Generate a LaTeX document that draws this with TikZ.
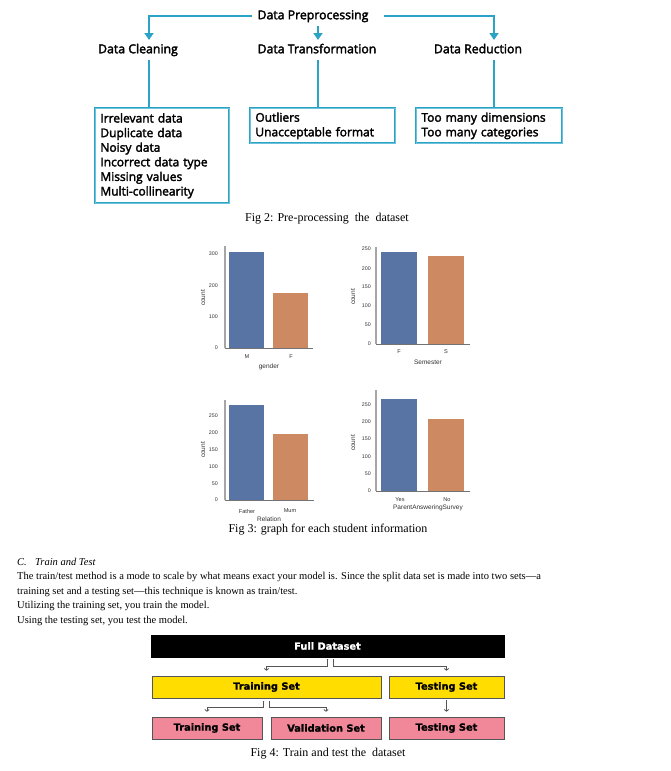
\documentclass[tikz,border=0pt]{standalone}
\usepackage{fontspec}
\setmainfont{Liberation Serif}
\newfontfamily\figfont[FakeBold=2.5]{Open Sans}
\newfontfamily\chartfont{Liberation Sans}
\newfontfamily\boxfont[FakeBold=1.5]{DejaVu Sans}
\usetikzlibrary{arrows.meta}
\definecolor{tealc}{HTML}{2BA3C6}
\definecolor{teall}{HTML}{6CC2DA}
\definecolor{bblue}{HTML}{5874A4}
\definecolor{borange}{HTML}{CD8A62}
\definecolor{ctext}{HTML}{333333}
\definecolor{ygold}{HTML}{FFDD00}
\definecolor{pinkc}{HTML}{F0889A}
\definecolor{gline}{HTML}{555555}
\tikzset{
  lbl/.style={font=\figfont\fontsize{12.3}{14}\selectfont, text height=9pt, text depth=2.5pt, inner xsep=5pt, inner ysep=0pt},
  tbox/.style={draw=tealc, line width=0.8pt, double=teall, double distance=0.4pt, align=left, inner xsep=5pt, inner ysep=0pt,
    font=\figfont\fontsize{12}{14.6}\selectfont, anchor=north west},
  tarr/.style={draw=tealc, line width=2pt, -{Triangle[width=9pt,length=7pt]}},
  tline/.style={draw=tealc, line width=2pt},
  tick/.style={font=\chartfont\fontsize{5.3}{6}\selectfont, text=ctext, anchor=east, inner sep=0pt},
  cat/.style={font=\chartfont\fontsize{5.6}{6}\selectfont, text=ctext, inner sep=0pt},
  axn/.style={font=\chartfont\fontsize{6.5}{7}\selectfont, text=ctext, inner sep=0pt},
  yax/.style={draw=gray!70, line width=1.5pt},
  xax/.style={draw=gray!110, line width=1pt},
  body/.style={font=\fontsize{10.5}{12}\selectfont, anchor=base west, inner sep=0pt},
  capt/.style={font=\fontsize{12}{14}\selectfont, anchor=base, inner sep=0pt},
  fbox/.style={font=\boxfont\bfseries\fontsize{9.8}{11}\selectfont, minimum height=22pt, inner sep=0pt},
  fullbox/.style={fbox, fill=black, text=white, draw=black},
  ybox/.style={fbox, fill=ygold, draw=gline, line width=0.7pt},
  pbox/.style={fbox, fill=pinkc, draw=gline, line width=0.7pt},
  garr/.style={draw=gline, line width=0.8pt, -{To[length=2.5pt,width=5pt]}, shorten >=5pt}
}
\begin{document}
\begin{tikzpicture}[x=1pt,y=-1pt]
\useasboundingbox[fill=white] (0,0) rectangle (670,771);

% ---------- Fig 2 ----------
\node[lbl] (dp) at (313,16) {Data Preprocessing};
\node[lbl] (dc) at (138,50) {Data Cleaning};
\node[lbl] (dt) at (317,50) {Data Transformation};
\node[lbl] (dr) at (478,50) {Data Reduction};

\node[tbox, text width=124pt, minimum height=95pt] (b1) at (95,108)
  {Irrelevant data\\Duplicate data\\Noisy data\\Incorrect data type\\Missing values\\Multi-collinearity};
\node[tbox, text width=135pt, minimum height=35pt] (b2) at (250,108)
  {Outliers\\Unacceptable format};
\node[tbox, text width=136pt, minimum height=35pt] (b3) at (416,108)
  {Too many dimensions\\Too many categories};

\coordinate (k1) at (149,40);
\coordinate (k2) at (318,40);
\coordinate (k3) at (494,40);
\draw[tarr] (dp.west) -| (k1);
\draw[tarr] ([xshift=10pt]dp.east) -| (k3);
\draw[tarr] ([yshift=-4pt]dp.south -| k2) -- (k2);
\draw[tline, shorten <=4pt] (dc.south -| k1) -- (b1.north -| k1);
\draw[tline, shorten <=4pt] (dt.south -| k2) -- (b2.north -| k2);
\draw[tline, shorten <=4pt] (dr.south -| k3) -- (b3.north -| k3);

\node[capt] (cap2) at (327,221.5) {Fig 2: Pre-processing\ \ the\ \ dataset};

% ---------- Fig 3 : chart 1 ----------
\fill[bblue] (229,348) rectangle (264,252);
\fill[borange] (273,348) rectangle (308,293);
\draw[yax] (225,246) -- (225,348);
\draw[xax] (225,348) -- (313,348);
\node[tick] (t10) at (218,348) {0};
\node[tick] (t11) at (218,317) {100};
\node[tick] (t12) at (218,286) {200};
\node[tick] (t13) at (218,254) {300};
\node[axn, rotate=90] (c1y) at (203,298) {count};
\node[cat] (c1a) at (247,357) {M};
\node[cat] (c1b) at (291,357) {F};
\node[axn] (c1x) at (269,367) {gender};

% chart 2
\fill[bblue] (381,344) rectangle (417,252);
\fill[borange] (428,344) rectangle (464,256);
\draw[yax] (376,247) -- (376,344);
\draw[xax] (376,344) -- (470,344);
\node[tick] (t20) at (371,344) {0};
\node[tick] (t21) at (371,325) {50};
\node[tick] (t22) at (371,306) {100};
\node[tick] (t23) at (371,287) {150};
\node[tick] (t24) at (371,269) {200};
\node[tick] (t25) at (371,249) {250};
\node[axn, rotate=90] (c2y) at (353,297) {count};
\node[cat] (c2a) at (399,352) {F};
\node[cat] (c2b) at (446,352) {S};
\node[axn] (c2x) at (428,362) {Semester};

% chart 3
\fill[bblue] (229,500) rectangle (264,405);
\fill[borange] (273,500) rectangle (308,434);
\draw[yax] (225,400) -- (225,500);
\draw[xax] (225,500) -- (314,500);
\node[tick] (t30) at (218,500) {0};
\node[tick] (t31) at (218,484) {50};
\node[tick] (t32) at (218,467) {100};
\node[tick] (t33) at (218,450) {150};
\node[tick] (t34) at (218,433) {200};
\node[tick] (t35) at (218,416) {250};
\node[axn, rotate=90] (c3y) at (203,450) {count};
\node[cat] (c3a) at (247,511) {Father};
\node[cat] (c3b) at (290,511) {Mum};
\node[axn] (c3x) at (269,519) {Relation};

% chart 4
\fill[bblue] (381,491) rectangle (417,399);
\fill[borange] (428,491) rectangle (464,419);
\draw[yax] (376,390) -- (376,491);
\draw[xax] (376,491) -- (470,491);
\node[tick] (t40) at (371,491) {0};
\node[tick] (t41) at (371,474) {50};
\node[tick] (t42) at (371,457) {100};
\node[tick] (t43) at (371,439) {150};
\node[tick] (t44) at (371,422) {200};
\node[tick] (t45) at (371,405) {250};
\node[axn, rotate=90] (c4y) at (353,443) {count};
\node[cat] (c4a) at (400,500) {Yes};
\node[cat] (c4b) at (447,500) {No};
\node[axn] (c4x) at (428,508) {ParentAnsweringSurvey};

\node[capt] (cap3) at (328,532.5) {Fig 3: graph for each student information};

% ---------- Text ----------
\node[body] (h1) at (17,565.5) {\itshape C.};
\node[body] (h2) at (35,565.5) {\itshape Train and Test};
\node[body] (p1) at (17,579.5) {The train/test method is a mode to scale by what means exact your model is. Since the split data set is made into two sets—a};
\node[body] (p2) at (17,594.5) {training set and a testing set—this technique is known as train/test.};
\node[body] (p3) at (17,608.5) {Utilizing the training set, you train the model.};
\node[body] (p4) at (17,623.5) {Using the testing set, you test the model.};

% ---------- Fig 4 ----------
\node[fullbox, minimum width=353pt] (full) at (327.5,646) {Full Dataset};
\node[ybox, minimum width=229pt] (tr1) at (266.5,687) {Training Set};
\node[ybox, minimum width=115pt] (te1) at (446.5,687) {Testing Set};
\node[pbox, minimum width=110pt] (tr2) at (207,728) {Training Set};
\node[pbox, minimum width=110pt] (val) at (326,728) {Validation Set};
\node[pbox, minimum width=115pt] (te2) at (446.5,728) {Testing Set};

\draw[garr] ([yshift=-2pt]full.south) -- ++(0,7) -| (tr1.north);
\draw[garr] ([xshift=6pt,yshift=-2pt]full.south) -- ++(0,7) -| (te1.north);
\draw[garr] ([xshift=-3pt,yshift=-3pt]tr1.south) -- ++(0,6) -| (tr2.north);
\draw[garr] ([xshift=3pt,yshift=-3pt]tr1.south) -- ++(0,6) -| (val.north);
\draw[garr, shorten <=2pt] (te1.south) -- (te2.north);

\node[capt] (cap4) at (328,756.5) {Fig 4: Train and test the\ \ dataset};
\end{tikzpicture}
\end{document}
